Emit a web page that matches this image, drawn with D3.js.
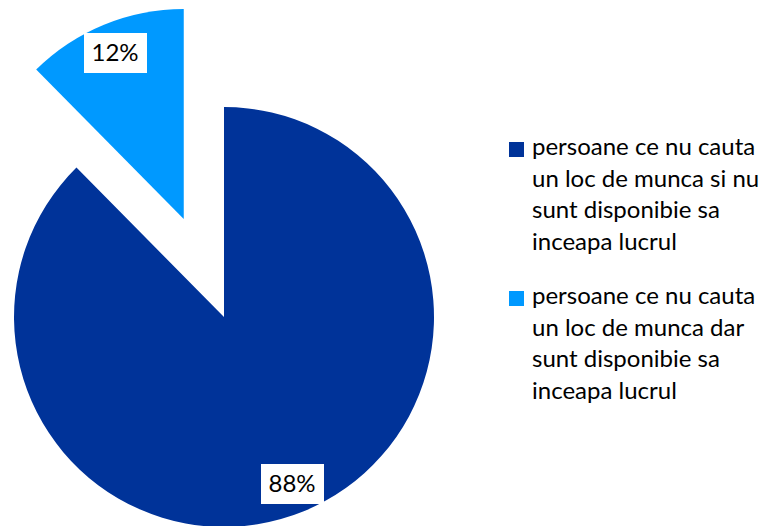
<!DOCTYPE html>
<html>
<head>
<meta charset="utf-8">
<script src="https://cdn.jsdelivr.net/npm/d3@7"></script>
<style>
  body { margin: 0; background: #fff; }
  svg { display: block; font-family: Lato, "Open Sans", sans-serif; }
</style>
</head>
<body>
<svg width="769" height="526"></svg>
<script>
var svg = d3.select("svg");

// data
var categories = [
  "persoane ce nu cauta un loc de munca si nu sunt disponibie sa inceapa lucrul",
  "persoane ce nu cauta un loc de munca dar sunt disponibie sa inceapa lucrul"
];
var values = [87.6, 12.4];
var labels = ["88%", "12%"];
var legendLines = [
  ["persoane ce nu cauta", "un loc de munca si nu", "sunt disponibie sa", "inceapa lucrul"],
  ["persoane ce nu cauta", "un loc de munca dar", "sunt disponibie sa", "inceapa lucrul"]
];
var colors = ["#003399", "#0099ff"];

var cx = 224, cy = 317, r = 210, explode = 106;

var pie = d3.pie().sort(null).value(d => d);
var arc = d3.arc().innerRadius(0).outerRadius(r);
var arcs = pie(values);

var g = svg.append("g").attr("transform", "translate(" + cx + "," + cy + ")");

// second slice is pulled out along its bisector
var slices = g.selectAll("g.slice").data(arcs).enter().append("g")
  .attr("class", "slice")
  .attr("transform", function(d, i) {
    if (i !== 1) return null;
    var a = (d.startAngle + d.endAngle) / 2;
    return "translate(" + (Math.sin(a) * explode) + "," + (-Math.cos(a) * explode) + ")";
  });

slices.append("path")
  .attr("d", arc)
  .attr("fill", (d, i) => colors[i]);

// data labels in white boxes
var labelPos = [[292 - cx, 484 - cy], [115 - cx, 53 - cy]];

var lab = g.selectAll("g.lab").data(arcs).enter().append("g")
  .attr("class", "lab")
  .attr("transform", (d, i) => "translate(" + labelPos[i][0] + "," + labelPos[i][1] + ")");
lab.append("rect")
  .attr("x", -31).attr("y", -20).attr("width", 63).attr("height", 40)
  .attr("fill", "#fff");
lab.append("text")
  .attr("text-anchor", "middle")
  .attr("dy", "0.35em")
  .attr("font-size", 24)
  .attr("fill", "#000")
  .text((d, i) => labels[i]);

// legend
var legend = svg.append("g").attr("transform", "translate(509,0)");
var itemY = [142, 291];
var items = legend.selectAll("g.item").data(categories).enter().append("g")
  .attr("class", "item")
  .attr("transform", (d, i) => "translate(0," + itemY[i] + ")");
items.append("rect")
  .attr("width", 15).attr("height", 15)
  .attr("fill", (d, i) => colors[i]);
items.append("text")
  .attr("x", 23)
  .attr("y", 13)
  .attr("font-size", 24)
  .attr("fill", "#000")
  .selectAll("tspan")
  .data((d, i) => legendLines[i])
  .enter().append("tspan")
  .attr("x", 23)
  .attr("dy", (d, j) => j === 0 ? 0 : 31.5)
  .text(d => d);
</script>
</body>
</html>
